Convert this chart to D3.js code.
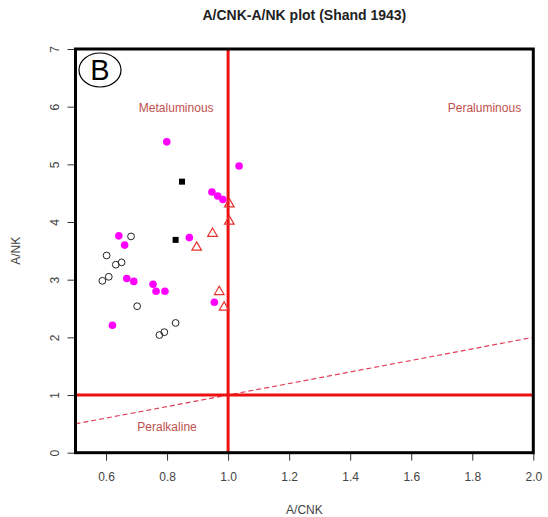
<!DOCTYPE html>
<html>
<head>
<meta charset="utf-8">
<script src="https://cdn.jsdelivr.net/npm/d3@7"></script>
<style>
  body { margin: 0; background: #fff; }
  text { font-family: "Liberation Sans", Arial, sans-serif; }
</style>
</head>
<body>
<div id="chart"></div>
<script>
// sample groups: [A/CNK, A/NK]
var magentaPts = [
    [0.799, 5.39], [1.036, 4.97], [0.947, 4.52], [0.966, 4.45], [0.983, 4.39],
    [0.642, 3.76], [0.661, 3.60], [0.873, 3.73], [0.668, 3.02], [0.691, 2.97],
    [0.754, 2.92], [0.764, 2.80], [0.793, 2.80], [0.955, 2.61], [0.621, 2.21]
];
var squarePts = [[0.849, 4.70], [0.828, 3.69]];
var openCirclePts = [
    [0.682, 3.75], [0.602, 3.42], [0.632, 3.26], [0.651, 3.30], [0.588, 2.98],
    [0.609, 3.05], [0.702, 2.54], [0.828, 2.25], [0.775, 2.04], [0.791, 2.09]
];
var trianglePts = [
    [1.004, 4.31], [1.004, 4.01], [0.949, 3.80], [0.897, 3.56], [0.971, 2.79], [0.987, 2.52]
];

var xTicks = [0.6, 0.8, 1.0, 1.2, 1.4, 1.6, 1.8, 2.0];
var yTicks = [0, 1, 2, 3, 4, 5, 6, 7];

// boundary lines
var acnkLimit = 1.0;
var anklimit = 1;
var diagLine = [[0.5, 0.5], [2.0, 2.0]];

var fieldLabels = [
    { name: "Metaluminous", x: 0.83, y: 5.98 },
    { name: "Peraluminous", x: 1.84, y: 5.98 },
    { name: "Peralkaline", x: 0.80, y: 0.45 }
];

var width = 548, height = 517;
var margin = { top: 49, right: 14.7, bottom: 64.3, left: 75.5 };

var svg = d3.select("#chart").append("svg")
    .attr("width", width)
    .attr("height", height);

var x = d3.scaleLinear().domain([0.5, 2.0]).range([margin.left, width - margin.right]);
var y = d3.scaleLinear().domain([0, 7]).range([height - margin.bottom, margin.top]);

// Title
svg.append("text")
    .attr("x", (x.range()[0] + x.range()[1]) / 2)
    .attr("y", 20)
    .attr("text-anchor", "middle")
    .style("font-size", "14px")
    .style("font-weight", "bold")
    .style("fill", "#222")
    .text("A/CNK-A/NK plot (Shand 1943)");

// axes
var xAxis = svg.append("g")
    .attr("transform", "translate(0," + y(0) + ")")
    .call(d3.axisBottom(x).tickValues(xTicks).tickSize(8).tickPadding(12).tickFormat(d3.format(".1f")));
xAxis.select(".domain").remove();
xAxis.selectAll("line").attr("stroke", "#333");
xAxis.selectAll("text").style("font-size", "12px").style("fill", "#444")
    .style("font-family", "'Liberation Sans', Arial, sans-serif");

var yAxis = svg.append("g")
    .attr("transform", "translate(" + x(0.5) + ",0)")
    .call(d3.axisLeft(y).tickValues(yTicks).tickSize(8).tickFormat(d3.format("d")));
yAxis.select(".domain").remove();
yAxis.selectAll("line").attr("stroke", "#333");
yAxis.selectAll("text")
    .attr("x", null).attr("dy", null)
    .attr("text-anchor", "middle")
    .attr("transform", "translate(-21,0) rotate(-90)")
    .attr("dy", "0.35em")
    .style("font-size", "12px").style("fill", "#444")
    .style("font-family", "'Liberation Sans', Arial, sans-serif");

// axis titles
svg.append("text")
    .attr("x", (x.range()[0] + x.range()[1]) / 2)
    .attr("y", 514)
    .attr("text-anchor", "middle")
    .style("font-size", "12px")
    .style("fill", "#444")
    .text("A/CNK");

svg.append("text")
    .attr("transform", "translate(20," + y(3.5) + ") rotate(-90)")
    .attr("text-anchor", "middle")
    .style("font-size", "12px")
    .style("fill", "#444")
    .text("A/NK");

// dashed diagonal
svg.append("line")
    .attr("x1", x(diagLine[0][0])).attr("y1", y(diagLine[0][1]))
    .attr("x2", x(diagLine[1][0])).attr("y2", y(diagLine[1][1]))
    .attr("stroke", "#e0405a")
    .attr("stroke-width", 1.2)
    .attr("stroke-dasharray", "5,3");

// red boundary lines
svg.append("line")
    .attr("x1", x(acnkLimit)).attr("x2", x(acnkLimit))
    .attr("y1", y(0)).attr("y2", y(7))
    .attr("stroke", "#ee1111").attr("stroke-width", 3);
svg.append("line")
    .attr("x1", x(0.5)).attr("x2", x(2.0))
    .attr("y1", y(anklimit)).attr("y2", y(anklimit))
    .attr("stroke", "#ee1111").attr("stroke-width", 3);

// field labels
svg.selectAll(".field")
    .data(fieldLabels)
    .enter().append("text")
    .attr("class", "field")
    .attr("x", function(d) { return x(d.x); })
    .attr("y", function(d) { return y(d.y); })
    .attr("dy", "0.35em")
    .attr("text-anchor", "middle")
    .style("font-size", "12px")
    .style("fill", "#c0504d")
    .text(function(d) { return d.name; });

// points
svg.selectAll(".open")
    .data(openCirclePts)
    .enter().append("circle")
    .attr("cx", function(d) { return x(d[0]); })
    .attr("cy", function(d) { return y(d[1]); })
    .attr("r", 3.4)
    .attr("fill", "none")
    .attr("stroke", "#222")
    .attr("stroke-width", 1);

svg.selectAll(".mag")
    .data(magentaPts)
    .enter().append("circle")
    .attr("cx", function(d) { return x(d[0]); })
    .attr("cy", function(d) { return y(d[1]); })
    .attr("r", 3.8)
    .attr("fill", "#ff00ff");

svg.selectAll(".sq")
    .data(squarePts)
    .enter().append("rect")
    .attr("x", function(d) { return x(d[0]) - 3; })
    .attr("y", function(d) { return y(d[1]) - 3; })
    .attr("width", 6)
    .attr("height", 6)
    .attr("fill", "#000");

var tri = d3.symbol().type(d3.symbolTriangle).size(40);
svg.selectAll(".tri")
    .data(trianglePts)
    .enter().append("path")
    .attr("d", tri)
    .attr("transform", function(d) { return "translate(" + x(d[0]) + "," + y(d[1]) + ")"; })
    .attr("fill", "none")
    .attr("stroke", "#e8302f")
    .attr("stroke-width", 1.2);

// plot box
svg.append("rect")
    .attr("x", x(0.5)).attr("y", y(7))
    .attr("width", x(2.0) - x(0.5))
    .attr("height", y(0) - y(7))
    .attr("fill", "none")
    .attr("stroke", "#000")
    .attr("stroke-width", 3);

// panel badge
svg.append("ellipse")
    .attr("cx", 100).attr("cy", 70)
    .attr("rx", 21).attr("ry", 17)
    .attr("fill", "#fff")
    .attr("stroke", "#000")
    .attr("stroke-width", 1.2);
svg.append("text")
    .attr("x", 100).attr("y", 70)
    .attr("dy", "0.36em")
    .attr("text-anchor", "middle")
    .style("font-size", "29px")
    .style("fill", "#000")
    .text("B");
</script>
</body>
</html>
